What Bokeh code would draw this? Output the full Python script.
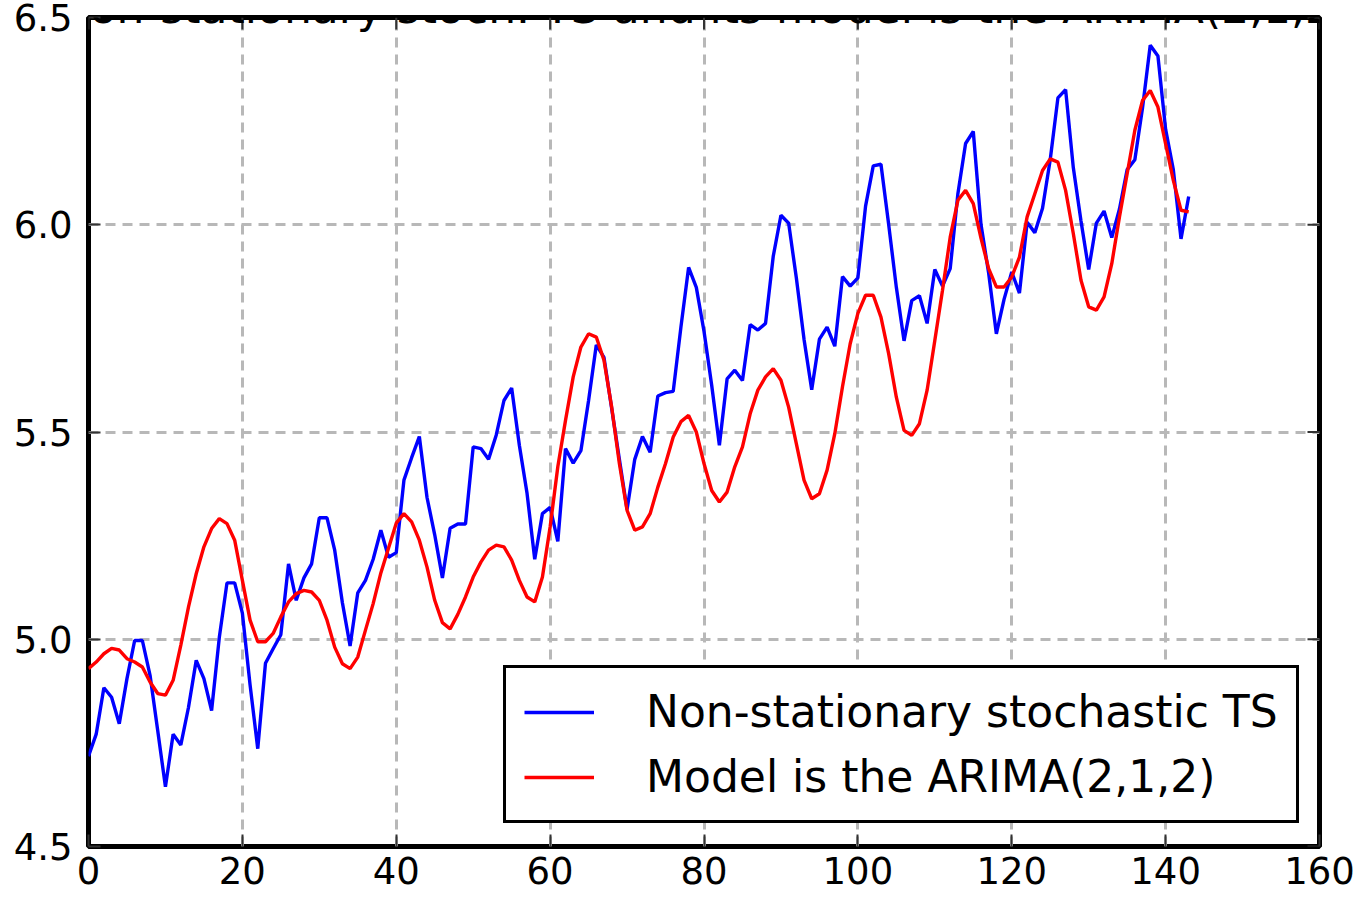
import math
from bokeh.plotting import figure
from bokeh.models import (Range1d, FixedTicker, NumeralTickFormatter, LinearAxis,
                          Legend, LegendItem, Label, Grid, ColumnDataSource)
from bokeh.embed import file_html
from bokeh.resources import INLINE

# ---------------- data ----------------
t_index = list(range(144))

# log of monthly airline passengers (non-stationary stochastic TS)
ts_log = [
    4.718, 4.771, 4.883, 4.860, 4.796, 4.905, 4.997, 4.997, 4.913, 4.779, 4.644, 4.771,
    4.745, 4.836, 4.949, 4.905, 4.828, 5.004, 5.136, 5.136, 5.063, 4.890, 4.736, 4.942,
    4.977, 5.011, 5.182, 5.094, 5.148, 5.182, 5.293, 5.293, 5.215, 5.088, 4.984, 5.112,
    5.142, 5.193, 5.263, 5.198, 5.209, 5.384, 5.438, 5.489, 5.342, 5.252, 5.148, 5.268,
    5.278, 5.278, 5.464, 5.460, 5.434, 5.493, 5.576, 5.606, 5.468, 5.352, 5.193, 5.303,
    5.318, 5.236, 5.460, 5.425, 5.455, 5.576, 5.710, 5.680, 5.557, 5.434, 5.313, 5.434,
    5.489, 5.451, 5.587, 5.595, 5.598, 5.753, 5.897, 5.849, 5.743, 5.613, 5.468, 5.628,
    5.649, 5.624, 5.759, 5.746, 5.762, 5.924, 6.023, 6.004, 5.872, 5.724, 5.602, 5.724,
    5.753, 5.707, 5.875, 5.852, 5.872, 6.045, 6.142, 6.146, 6.001, 5.849, 5.720, 5.817,
    5.829, 5.762, 5.892, 5.852, 5.894, 6.075, 6.196, 6.225, 6.001, 5.883, 5.737, 5.820,
    5.886, 5.835, 6.006, 5.981, 6.040, 6.157, 6.306, 6.326, 6.138, 6.009, 5.892, 6.004,
    6.033, 5.969, 6.038, 6.133, 6.157, 6.282, 6.433, 6.407, 6.230, 6.133, 5.966, 6.068,
]

# ARIMA(2,1,2) model curve
model_vals = [
    4.929, 4.945, 4.965, 4.978, 4.974, 4.953, 4.945, 4.933, 4.897, 4.869,
    4.865, 4.901, 4.986, 5.078, 5.158, 5.223, 5.267, 5.291, 5.279, 5.239,
    5.142, 5.046, 4.994, 4.994, 5.014, 5.054, 5.090, 5.110, 5.118, 5.114,
    5.094, 5.046, 4.981, 4.941, 4.929, 4.957, 5.022, 5.086, 5.160, 5.220,
    5.280, 5.303, 5.283, 5.239, 5.174, 5.094, 5.040, 5.025, 5.060, 5.102,
    5.150, 5.186, 5.215, 5.227, 5.223, 5.191, 5.142, 5.102, 5.090, 5.150,
    5.271, 5.416, 5.528, 5.633, 5.705, 5.737, 5.729, 5.673, 5.560, 5.424,
    5.311, 5.263, 5.271, 5.303, 5.367, 5.424, 5.488, 5.525, 5.540, 5.500,
    5.424, 5.359, 5.331, 5.355, 5.416, 5.464, 5.544, 5.601, 5.633, 5.653,
    5.625, 5.560, 5.472, 5.384, 5.339, 5.351, 5.408, 5.496, 5.609, 5.713,
    5.786, 5.830, 5.830, 5.777, 5.689, 5.584, 5.504, 5.492, 5.520, 5.601,
    5.721, 5.842, 5.970, 6.059, 6.083, 6.051, 5.968, 5.894, 5.850, 5.850,
    5.874, 5.922, 6.019, 6.075, 6.131, 6.159, 6.151, 6.083, 5.979, 5.866,
    5.802, 5.794, 5.826, 5.906, 6.019, 6.123, 6.228, 6.300, 6.324, 6.284,
    6.195, 6.107, 6.035, 6.031,
]

x_ticks = [0, 20, 40, 60, 80, 100, 120, 140, 160]
y_ticks = [4.5, 5.0, 5.5, 6.0, 6.5]

title_text = "Non-stationary stoch. TS and its model is the ARIMA(2,1,2)"
series_labels = ["Non-stationary stochastic TS", "Model is the ARIMA(2,1,2)"]

# ---------------- figure ----------------
FONT = "DejaVu Sans"
X0, X1 = x_ticks[0], x_ticks[-1]
Y0, Y1 = y_ticks[0], y_ticks[-1]

p = figure(width=1360, height=899,
           x_range=Range1d(X0, X1), y_range=Range1d(Y0, Y1),
           x_axis_type=None, y_axis_type=None,
           output_backend="svg", toolbar_location=None,
           min_border_left=88, min_border_right=41,
           min_border_top=17, min_border_bottom=53)
p.background_fill_color = "white"
p.border_fill_color = "white"
p.outline_line_color = "black"
p.outline_line_width = 5

xt = FixedTicker(ticks=x_ticks)
yt = FixedTicker(ticks=y_ticks)

for dim, tk in ((0, xt), (1, yt)):
    g = Grid(dimension=dim, ticker=tk, grid_line_color="#b8b8b8",
             grid_line_width=3, grid_line_dash="10 7")
    p.add_layout(g)


def style_axis(ax, standoff):
    ax.axis_line_color = None
    ax.major_tick_in = 12
    ax.major_tick_out = 0
    ax.major_tick_line_color = "#333333"
    ax.major_tick_line_width = 2
    ax.minor_tick_line_color = None
    ax.major_label_text_font = FONT
    ax.major_label_text_color = "black"
    ax.major_label_text_font_size = "37px"
    ax.major_label_standoff = standoff


xb = LinearAxis(ticker=xt)
style_axis(xb, 10)
p.add_layout(xb, "below")

yl = LinearAxis(ticker=yt, formatter=NumeralTickFormatter(format="0.0"))
style_axis(yl, 16)
p.add_layout(yl, "left")

src = ColumnDataSource(dict(t=t_index, ts=ts_log, model=model_vals))
r_ts = p.line("t", "ts", source=src, line_color="#0000ff", line_width=3.4)
r_model = p.line("t", "model", source=src, line_color="#ff0000", line_width=3.4)

# inward ticks on the top and right edges of the frame
p.ray(x=x_ticks, y=[Y1] * len(x_ticks), length=12, length_units="screen",
      angle=-math.pi / 2, line_color="#333333", line_width=2)
p.ray(x=[X1] * len(y_ticks), y=y_ticks, length=12, length_units="screen",
      angle=math.pi, line_color="#333333", line_width=2)

legend = Legend(items=[LegendItem(label=series_labels[0], renderers=[r_ts]),
                       LegendItem(label=series_labels[1], renderers=[r_model])],
                location=(415, 23), margin=0, padding=18, spacing=14,
                glyph_width=70, glyph_height=48, label_height=48,
                label_standoff=52, label_text_font=FONT,
                label_text_font_size="44px", label_text_color="black",
                border_line_color="black", border_line_width=3,
                border_line_alpha=1.0,
                background_fill_color="white", background_fill_alpha=1.0)
p.add_layout(legend)

title = Label(x=615, y=839, x_units="screen", y_units="screen",
              text=title_text, text_align="center", text_baseline="alphabetic",
              text_font=FONT, text_font_size="44px", text_color="black")
p.add_layout(title)

open("out.html", "w").write(file_html(p, INLINE))
